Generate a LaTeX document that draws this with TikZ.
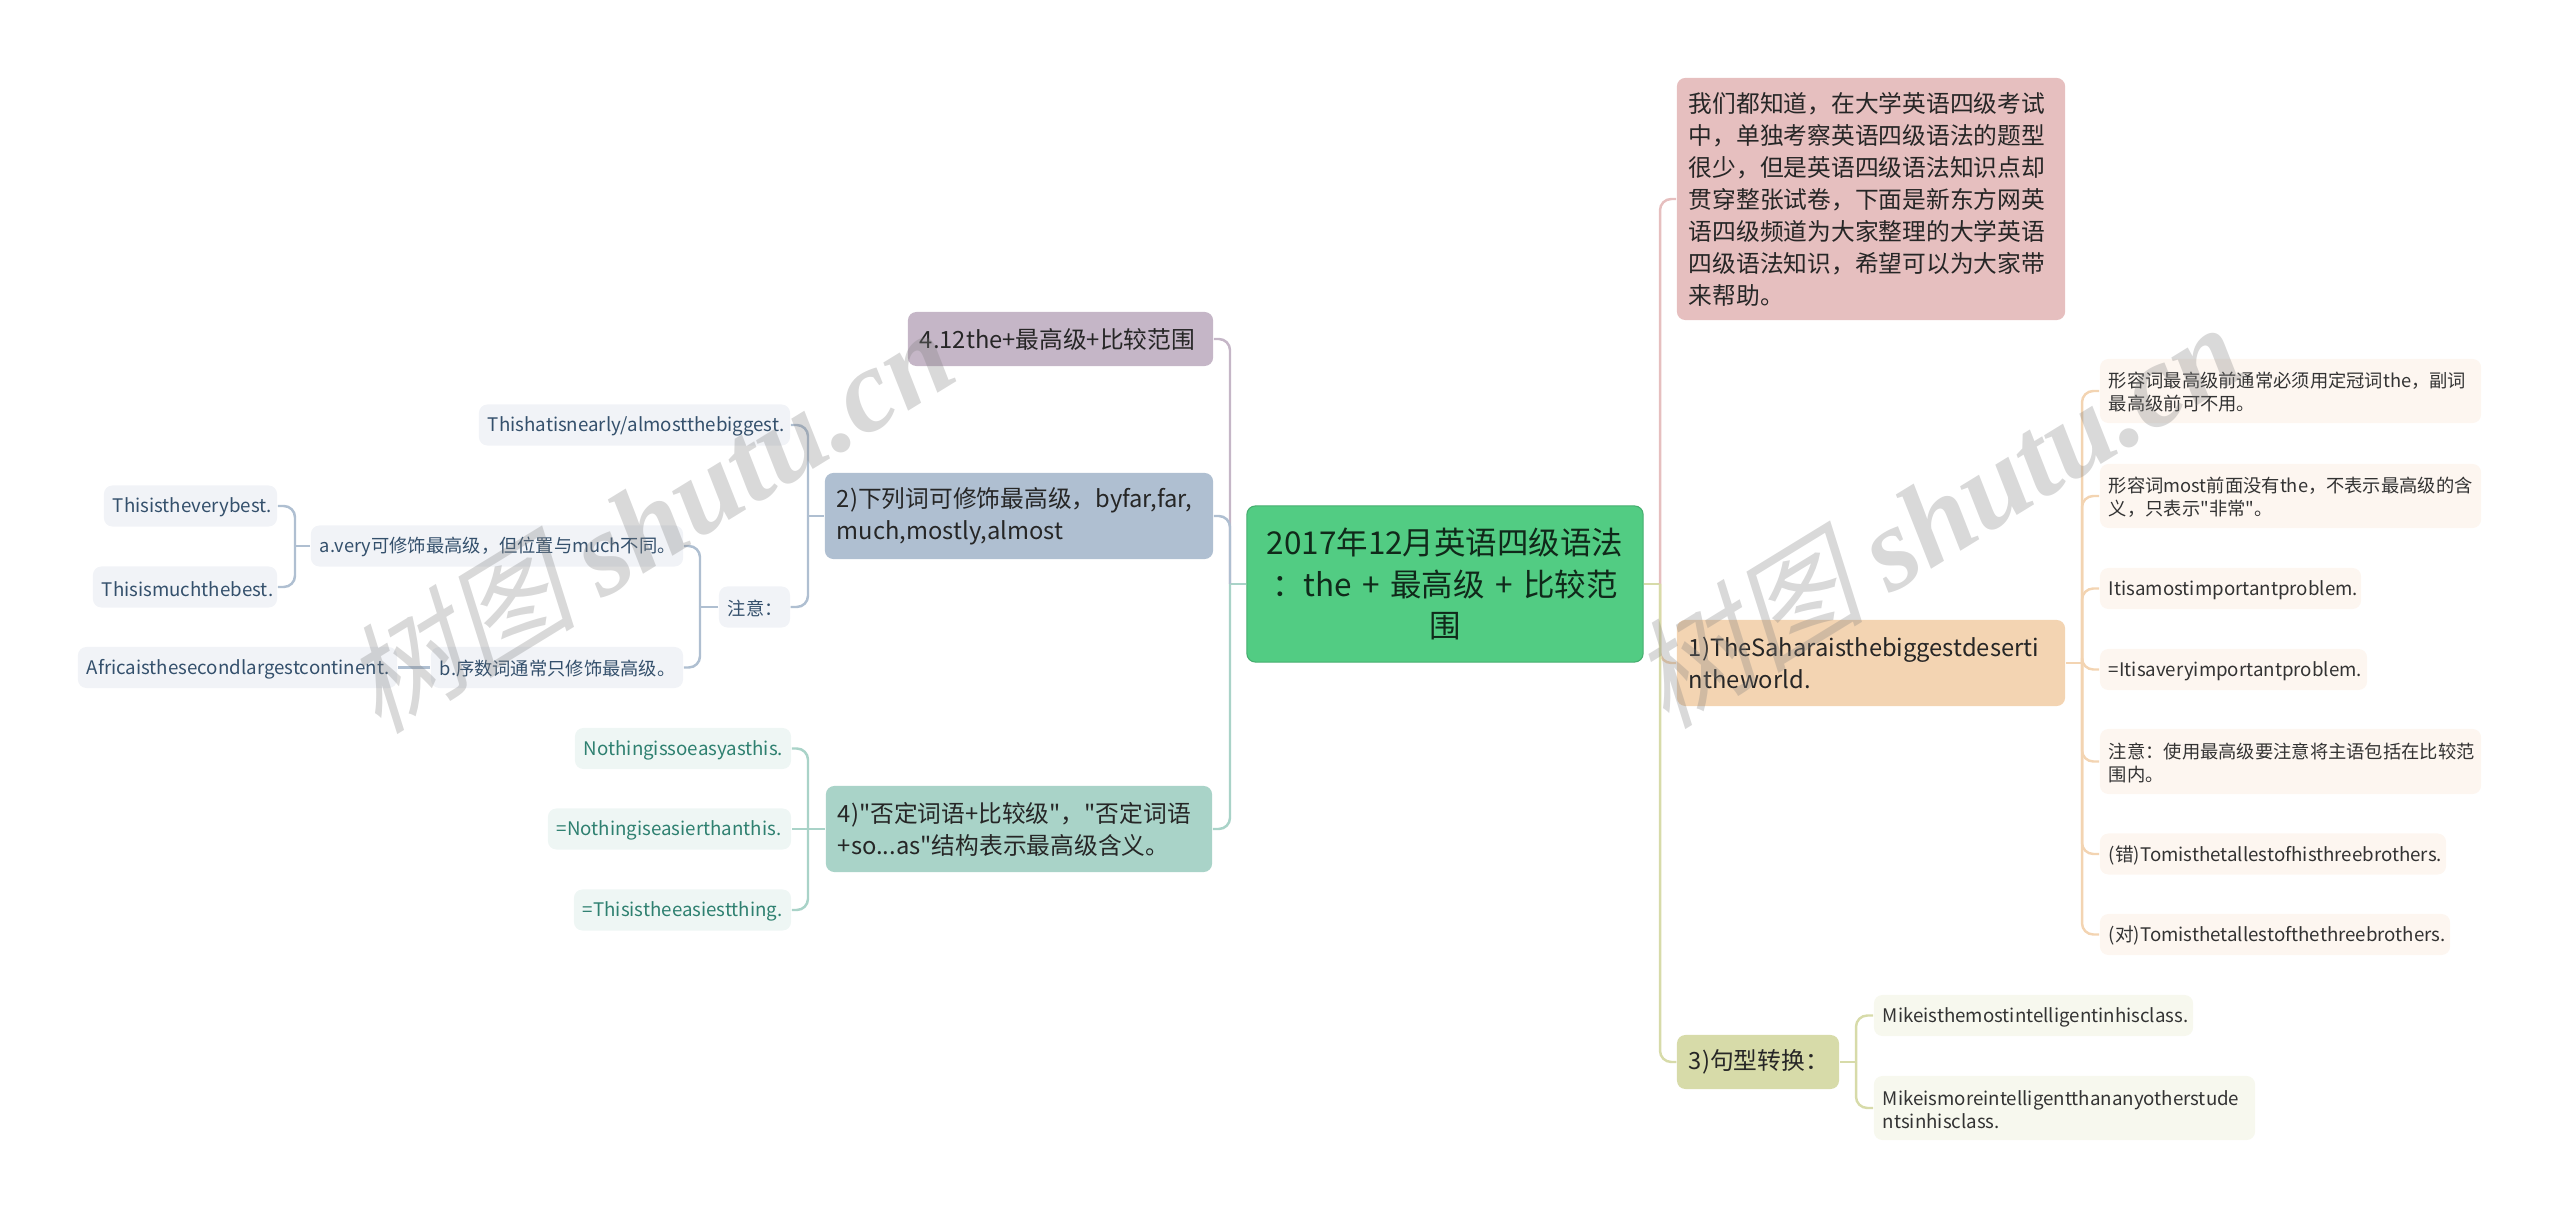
\documentclass[tikz,border=0pt]{standalone}
\usepackage{fontspec}
\usepackage{xcolor}
\newfontfamily\zhfont{Noto Sans CJK SC}
\newfontfamily\markzh[FakeSlant=0.25]{Noto Sans CJK SC}
\newfontfamily\markla{Liberation Serif}

\definecolor{rootc}{HTML}{52CC83}
\definecolor{pinkc}{HTML}{E6BFBF}
\definecolor{oranc}{HTML}{F3D4B2}
\definecolor{olivc}{HTML}{D7DBA9}
\definecolor{bluec}{HTML}{AFBFD1}
\definecolor{tealc}{HTML}{A9D3C8}
\definecolor{purpc}{HTML}{C5B6C7}
\definecolor{bluet}{HTML}{34506C}
\definecolor{tealt}{HTML}{2E8070}

\begin{document}
\begin{tikzpicture}[
      x=0.01cm, y=-0.01cm,
      root/.style={draw=rootc!85!black,line width=.3pt,fill=rootc,rounded corners=2.4pt,text=black!80!rootc,align=center,inner sep=0pt,
        font=\zhfont\fontsize{8.95}{11.9}\selectfont},
      topic/.style={rounded corners=2.4pt,align=left,inner xsep=.12cm,inner ysep=0pt,text=black!85,
        font=\zhfont\fontsize{6.75}{9.1}\selectfont},
      leaf/.style={rounded corners=2.4pt,align=left,inner xsep=.09cm,inner ysep=0pt,
        font=\zhfont\fontsize{5.2}{6.6}\selectfont,execute at begin node={\rule{0pt}{5.2pt}}},
      latin/.style={font=\zhfont\fontsize{5.32}{6.6}\selectfont},
      bleaf/.style={leaf,fill=bluec!18,text=bluet},
      tleaf/.style={leaf,fill=tealc!20,text=tealt},
      oleaf/.style={leaf,fill=oranc!20,text=black!80},
      gleaf/.style={leaf,fill=olivc!20,text=black!80},
      link/.style={line width=.7pt,rounded corners=3.2pt},
      stamp/.style={text=black!50,opacity=.3,rotate=31.5,inner sep=0pt}
  ]
      \useasboundingbox (0,0) rectangle (2560,1219);

      % main nodes
      \node[root,minimum width=3.96cm,minimum height=1.56cm,text width=3.8cm] (root) at (1445,584) {2017年12月英语四级语法\\：the + 最高级 + 比较范\\围};

      \node[topic,fill=purpc,text width=2.81cm,minimum height=.54cm] (range) at (1060.5,339) {4.12the+最高级+比较范围};
      \node[topic,fill=bluec,text width=3.64cm,minimum height=.86cm] (words) at (1019,516) {2)下列词可修饰最高级，byfar,far,\\much,mostly,almost};
      \node[topic,fill=tealc,text width=3.62cm,minimum height=.86cm] (neg) at (1019,829) {4)"否定词语+比较级"，"否定词语\\+so...as"结构表示最高级含义。};

      \node[topic,fill=pinkc,text width=3.64cm,minimum height=2.42cm] (intro) at (1871,199) {我们都知道，在大学英语四级考试\\中，单独考察英语四级语法的题型\\很少，但是英语四级语法知识点却\\贯穿整张试卷，下面是新东方网英\\语四级频道为大家整理的大学英语\\四级语法知识，希望可以为大家带\\来帮助。};
      \node[topic,fill=oranc,text width=3.64cm,minimum height=.86cm] (sahara) at (1871,663) {1)TheSaharaisthebiggestdeserti\\ntheworld.};
      \node[topic,fill=olivc,text width=1.38cm,minimum height=.54cm] (turn) at (1758,1062) {3)句型转换：};

      % left leaves
      \node[bleaf,latin,text width=2.93cm,minimum height=.41cm] (almost) at (634.5,425) {Thishatisnearly/almostthebiggest.};
      \node[bleaf,text width=.53cm,minimum height=.41cm] (note) at (754.5,607) {注意：};
      \node[bleaf,text width=3.54cm,minimum height=.41cm] (avery) at (497,546) {a.very可修饰最高级，但位置与much不同。};
      \node[bleaf,text width=2.34cm,minimum height=.41cm] (border) at (557,667.5) {b.序数词通常只修饰最高级。};
      \node[bleaf,latin,text width=1.55cm,minimum height=.41cm] (verybest) at (190.5,506) {Thisistheverybest.};
      \node[bleaf,latin,text width=1.66cm,minimum height=.41cm] (muchbest) at (185,587) {Thisismuchthebest.};
      \node[bleaf,latin,text width=3.01cm,minimum height=.41cm] (africa) at (237.5,667.5) {Africaisthesecondlargestcontinent.};

      \node[tleaf,latin,text width=1.98cm,minimum height=.41cm] (soeasy) at (683,748.5) {Nothingissoeasyasthis.};
      \node[tleaf,latin,text width=2.25cm,minimum height=.41cm] (easier) at (669.5,829) {=Nothingiseasierthanthis.};
      \node[tleaf,latin,text width=1.99cm,minimum height=.41cm] (easiest) at (682.5,910) {=Thisistheeasiestthing.};

      % right leaves
      \node[oleaf,text width=3.63cm,minimum height=.64cm] (must) at (2290.5,391) {形容词最高级前通常必须用定冠词the，副词\\最高级前可不用。};
      \node[oleaf,text width=3.63cm,minimum height=.64cm] (most) at (2290.5,496) {形容词most前面没有the，不表示最高级的含\\义，只表示"非常"。};
      \node[oleaf,latin,text width=2.43cm,minimum height=.41cm] (ita) at (2230.5,588.5) {Itisamostimportantproblem.};
      \node[oleaf,latin,text width=2.49cm,minimum height=.41cm] (itb) at (2233.5,669.5) {=Itisaveryimportantproblem.};
      \node[oleaf,text width=3.63cm,minimum height=.65cm] (attn) at (2290.5,761.5) {注意：使用最高级要注意将主语包括在比较范\\围内。};
      \node[oleaf,latin,text width=3.28cm,minimum height=.41cm] (wrong) at (2273,854) {(错)Tomisthetallestofhisthreebrothers.};
      \node[oleaf,latin,text width=3.32cm,minimum height=.41cm] (right) at (2275,934.5) {(对)Tomisthetallestofthethreebrothers.};

      \node[gleaf,latin,text width=3.01cm,minimum height=.41cm] (mike) at (2033.5,1015.5) {Mikeisthemostintelligentinhisclass.};
      \node[gleaf,latin,text width=3.63cm,minimum height=.64cm] (mikeb) at (2064.5,1108) {Mikeismoreintelligentthananyotherstude\\ntsinhisclass.};

      % trunks
      \coordinate (trunkL) at (1230,584);
      \coordinate (trunkR) at (1660,584);
      \coordinate (wordsJ) at (808,516);
      \coordinate (noteJ) at (700,607);
      \coordinate (averyJ) at (295,546);
      \coordinate (negJ) at (808,829);
      \coordinate (saharaJ) at (2082,663);
      \coordinate (turnJ) at (1856,1062);

      % connections
      \draw[link,draw=tealc] (root.west) -- (trunkL);
      \draw[link,draw=purpc] (trunkL) |- (range.east);
      \draw[link,draw=bluec] (trunkL) |- (words.east);
      \draw[link,draw=tealc] (trunkL) |- (neg.east);
      \draw[link,draw=olivc] (root.east) -- (trunkR);
      \draw[link,draw=pinkc] (trunkR) |- (intro.west);
      \draw[link,draw=oranc] (trunkR) |- (sahara.west);
      \draw[link,draw=olivc] (trunkR) |- (turn.west);

      \draw[link,draw=bluec] (words.west) -- (wordsJ);
      \draw[link,draw=bluec] (wordsJ) |- (almost.east);
      \draw[link,draw=bluec] (wordsJ) |- (note.east);
      \draw[link,draw=bluec] (note.west) -- (noteJ);
      \draw[link,draw=bluec] (noteJ) |- (avery.east);
      \draw[link,draw=bluec] (noteJ) |- (border.east);
      \draw[link,draw=bluec] (avery.west) -- (averyJ);
      \draw[link,draw=bluec] (averyJ) |- (verybest.east);
      \draw[link,draw=bluec] (averyJ) |- (muchbest.east);
      \draw[link,draw=bluec] (border.west) -- (africa.east);

      \draw[link,draw=tealc] (neg.west) -- (negJ);
      \draw[link,draw=tealc] (negJ) |- (soeasy.east);
      \draw[link,draw=tealc] (negJ) -- (easier.east);
      \draw[link,draw=tealc] (negJ) |- (easiest.east);

      \draw[link,draw=oranc] (sahara.east) -- (saharaJ);
      \foreach \leafname in {must,most,ita,itb,attn,wrong,right}
        \draw[link,draw=oranc] (saharaJ) |- (\leafname.west);

      \draw[link,draw=olivc] (turn.east) -- (turnJ);
      \draw[link,draw=olivc] (turnJ) |- (mike.west);
      \draw[link,draw=olivc] (turnJ) |- (mikeb.west);

      % stamp over everything
      \node[stamp] (markL) at (647,519) {\fontsize{33.5}{34}\selectfont\markzh 树图\ \markla\bfseries\itshape shutu.cn};
      \node[stamp] (markR) at (1935,514) {\fontsize{33.5}{34}\selectfont\markzh 树图\ \markla\bfseries\itshape shutu.cn};
  \end{tikzpicture}
\end{document}
